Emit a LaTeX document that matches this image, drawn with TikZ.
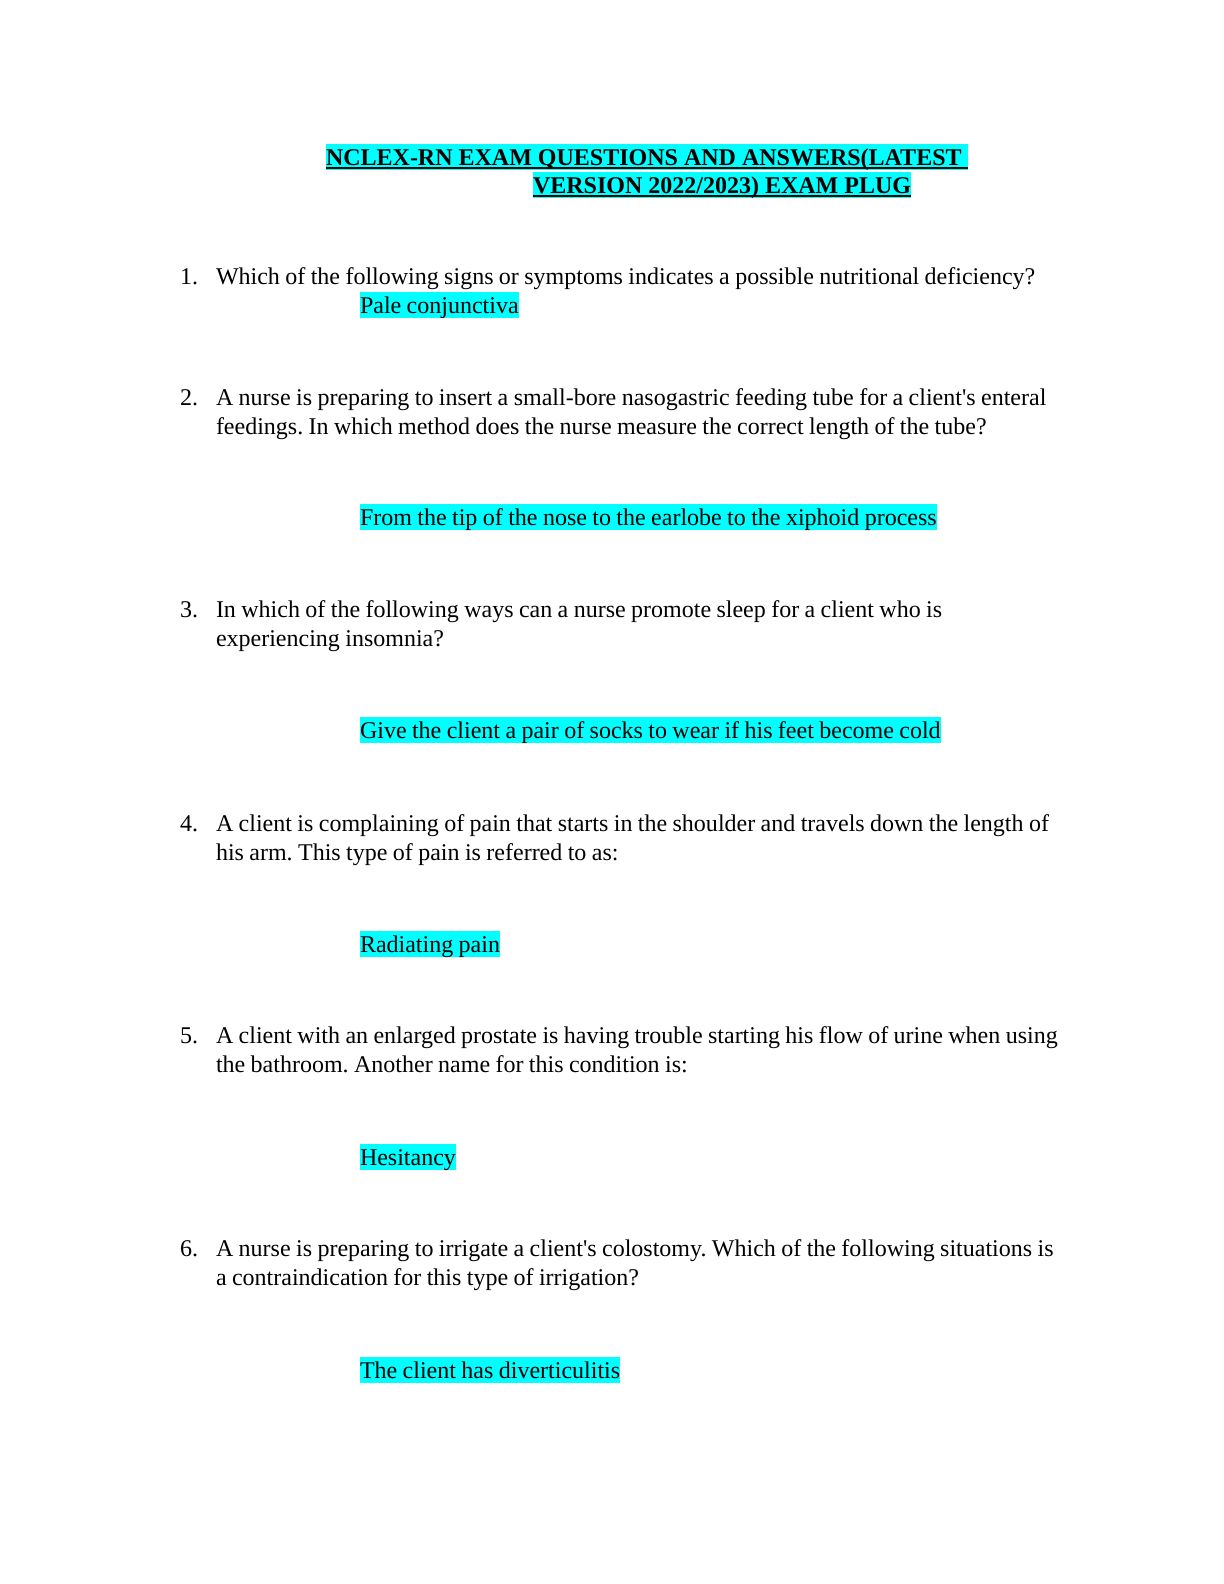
\documentclass[tikz,border=0pt]{standalone}
\usepackage{fontspec}
\setmainfont{Liberation Serif}[Ligatures=TeXOff]
\usetikzlibrary{
    positioning
}
\definecolor{marker}{HTML}{00FFFF}
\tikzset{
    every picture/.style = {
        x = 0.5bp,
        y = -0.5bp
    },
    every node/.style = {
        inner sep = 0pt,
        outer sep = 0pt,
        anchor = base west,
        font = {\fontsize{12bp}{14.5bp}\selectfont\frenchspacing\spaceskip=2.7bp\relax}
    },
    heading/.style = {
        fill = marker,
        font = {\fontsize{12bp}{14.5bp}\selectfont\bfseries},
        text height = 10.7bp,
        text depth = 2.6bp
    },
    answer/.style = {
        fill = marker,
        text height = 10.7bp,
        text depth = 2.6bp
    },
    underline/.style = {
        line width = 1.1bp
    }
}

\begin{document}
\begin{tikzpicture}
    \useasboundingbox (0,0) rectangle (1224,1584);

    % title
    \node[heading] (title1) at (326,165) {NCLEX-RN EXAM QUESTIONS AND ANSWERS(LATEST\kern3bp};
    \node[heading] (title2) at (533,193) {VERSION 2022/2023) EXAM PLUG};
    \draw[underline] ([yshift=-1.6bp]title1.base west) -- ([yshift=-1.6bp]title1.base east);
    \draw[underline] ([yshift=-1.6bp]title2.base west) -- ([yshift=-1.6bp]title2.base east);

    % question 1
    \node (n1) at (180,284) {1.};
    \node (q1) [base right = 9bp of n1] {Which of the following signs or symptoms indicates a possible nutritional deficiency?};
    \node[answer] (a1) at (360,313) {Pale conjunctiva};

    % question 2
    \node (n2) at (180,405) {2.};
    \node (q2a) [base right = 9bp of n2] {A nurse is preparing to insert a small-bore nasogastric feeding tube for a client's enteral};
    \node (q2b) at ([yshift=-14.5bp]q2a.base west) {feedings. In which method does the nurse measure the correct length of the tube?};
    \node[answer] (a2) at (360,525) {From the tip of the nose to the earlobe to the xiphoid process};

    % question 3
    \node (n3) at (180,617) {3.};
    \node (q3a) [base right = 9bp of n3] {In which of the following ways can a nurse promote sleep for a client who is};
    \node (q3b) at ([yshift=-14.5bp]q3a.base west) {experiencing insomnia?};
    \node[answer] (a3) at (360,738) {Give the client a pair of socks to wear if his feet become cold};

    % question 4
    \node (n4) at (180,831) {4.};
    \node (q4a) [base right = 9bp of n4] {A client is complaining of pain that starts in the shoulder and travels down the length of};
    \node (q4b) at ([yshift=-14.5bp]q4a.base west) {his arm. This type of pain is referred to as:};
    \node[answer] (a4) at (360,952) {Radiating pain};

    % question 5
    \node (n5) at (180,1043) {5.};
    \node (q5a) [base right = 9bp of n5] {A client with an enlarged prostate is having trouble starting his flow of urine when using};
    \node (q5b) at ([yshift=-14.5bp]q5a.base west) {the bathroom. Another name for this condition is:};
    \node[answer] (a5) at (360,1165) {Hesitancy};

    % question 6
    \node (n6) at (180,1256) {6.};
    \node (q6a) [base right = 9bp of n6] {A nurse is preparing to irrigate a client's colostomy. Which of the following situations is};
    \node (q6b) at ([yshift=-14.5bp]q6a.base west) {a contraindication for this type of irrigation?};
    \node[answer] (a6) at (360,1378) {The client has diverticulitis};
\end{tikzpicture}
\end{document}
